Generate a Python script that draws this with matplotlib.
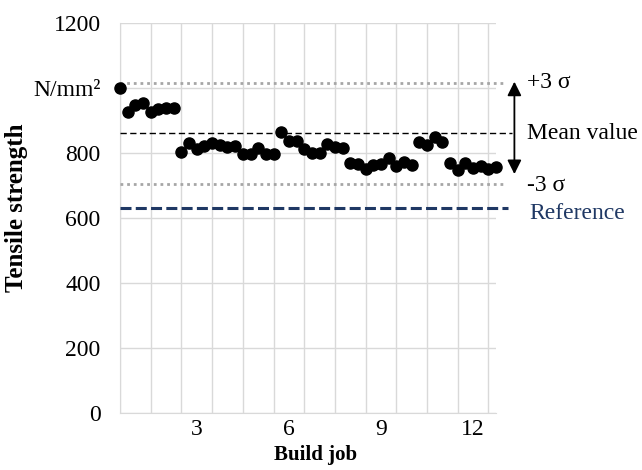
import numpy as np
import matplotlib
matplotlib.use("Agg")
import matplotlib.pyplot as plt

# --------------------------------------------------
# Data: tensile strength samples, 4 per build job
# --------------------------------------------------
tensile = [998, 926, 947, 952, 926, 934, 937, 937,
           803, 829, 811, 821, 831, 824, 817, 821,
           798, 798, 814, 796, 796, 865, 837, 837,
           811, 800, 800, 827, 817, 814, 768, 766,
           752, 762, 766, 783, 759, 773, 762, 834,
           824, 850, 834, 768, 749, 768, 755, 759,
           752, 757]
samples_per_job = 4
job_ticks = [3, 6, 9, 12]

mean_value = 860
upper_3s = 1016
lower_3s = 704
reference = 630

y_ticks = [0, 200, 400, 600, 800, 1000, 1200]
y_labels = ["0", "200", "400", "600", "800", "N/mm²", "1200"]

# sample positions in build-job units, job k centred on k
x = 0.5 + np.arange(len(tensile)) / samples_per_job

plt.rcParams['font.family'] = ['Liberation Serif', 'DejaVu Serif']
navy = "#1F3864"
grid_col = "#D9D9D9"

fig = plt.figure(figsize=(6.42, 4.70), dpi=100)
ax = fig.add_axes([0.187, 0.1206, 0.5857, 0.831])

ax.plot(x, tensile, "o", color="black", markersize=8, clip_on=False, zorder=5)

# control limits extend a little past the plot area
ax.plot([0.5, 13.04], [upper_3s, upper_3s], color="#A6A6A6", lw=2.0,
        linestyle=(0, (1, 1.4)), clip_on=False, zorder=3)
ax.plot([0.5, 13.04], [lower_3s, lower_3s], color="#A6A6A6", lw=2.0,
        linestyle=(0, (1, 1.4)), clip_on=False, zorder=3)
ax.plot([0.5, 13.26], [mean_value, mean_value], color="black", lw=1.0,
        linestyle=(0, (4.5, 2.5)), clip_on=False, zorder=3)
ax.plot([0.5, 13.14], [reference, reference], color=navy, lw=2.2,
        linestyle=(0, (3.6, 1.4)), clip_on=False, zorder=3)

ax.annotate("", xy=(13.347, 735), xytext=(13.347, 1019),
            arrowprops=dict(arrowstyle="<|-|>,head_length=0.6,head_width=0.3",
                            color="black", lw=1.3, mutation_scale=14,
                            shrinkA=0, shrinkB=0),
            annotation_clip=False)

fs = 17
ax.text(13.75, 1015, "+3 σ", fontsize=fs, va="center", ha="left", clip_on=False)
ax.text(13.75, 860, "Mean value", fontsize=fs, va="center", ha="left", clip_on=False)
ax.text(13.75, 700, "-3 σ", fontsize=fs, va="center", ha="left", clip_on=False)
ax.text(13.83, 614, "Reference", fontsize=fs, va="center", ha="left",
        color=navy, clip_on=False)

ax.set_xlim(0.5, 12.75)
ax.set_ylim(0, 1200)
ax.set_yticks(y_ticks)
ax.set_yticklabels(y_labels)
ax.set_xticks(job_ticks)
ax.set_xticks(np.arange(0.5, 12.6, 1.0), minor=True)
ax.tick_params(which="both", length=0, labelsize=fs)
ax.tick_params(axis="y", pad=14)
ax.tick_params(axis="x", pad=4)

ax.grid(which="minor", axis="x", color=grid_col, lw=1.0)
ax.grid(which="major", axis="y", color=grid_col, lw=1.0)
ax.set_axisbelow(True)
for side in ["top", "right"]:
    ax.spines[side].set_visible(False)
for side in ["left", "bottom"]:
    ax.spines[side].set_color(grid_col)

ax.set_xlabel("Build job", fontsize=15, fontweight="bold")
ax.set_ylabel("Tensile strength", fontsize=18, fontweight="bold")
ax.xaxis.set_label_coords(0.52, -0.08)
ax.yaxis.set_label_coords(-0.245, 0.526)

fig.savefig("out.png", dpi=100)
